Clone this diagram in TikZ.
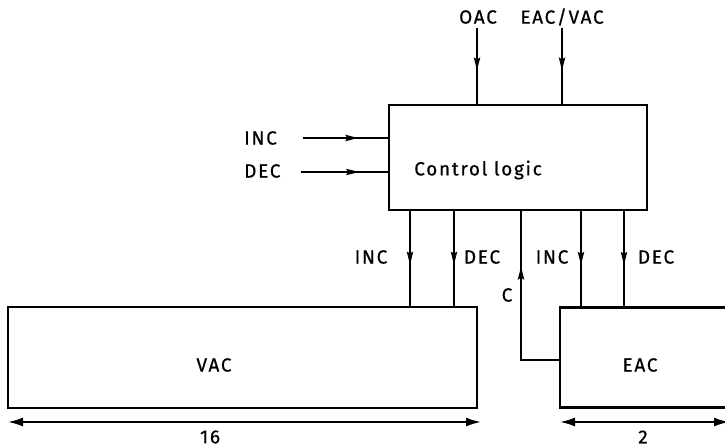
\documentclass[tikz,border=0pt]{standalone}
\usepackage{fontspec}
\setmainfont{Fira Sans}[LetterSpace=9, FakeBold=0.6]
\usetikzlibrary{arrows.meta,decorations.markings}

\begin{document}
\begin{tikzpicture}[
  x=1pt, y=-1pt,
  font=\fontsize{19}{22}\selectfont,
  blk/.style  = {draw, line width=2.6pt, inner sep=0pt},
  sig/.style  = {line width=1.3pt},
  mid/.style  = {sig, postaction={decorate}, decoration={markings,
                 mark=at position #1 with {\fill (6pt,0pt) -- (-7pt,3.3pt)
                   -- (-5pt,0pt) -- (-7pt,-3.3pt) -- cycle;}}},
  mid/.default = 0.5,
  dim/.style  = {line width=1.8pt,
                 {Latex[length=15pt,width=9pt]}-{Latex[length=15pt,width=9pt]}},
  lbl/.style  = {inner sep=1pt},
]
\useasboundingbox (0,0) rectangle (725,447);

% ---------------- blocks ----------------
\node[blk, minimum width=258pt, minimum height=105pt] (ctl) at (518,157.5) {};
\node[lbl] at (478,170) {Control logic};
\node[blk, minimum width=469pt, minimum height=101pt] (vac) at (242.5,357.5) {};
\node[lbl] at (214,365) {VAC};
\node[blk, minimum width=200pt, minimum height=100pt] (eac) at (660,357.5) {};
\node[lbl] at (640,365) {EAC};

% ---------------- inputs ----------------
\node[lbl] (oac) at (478,17) {OAC};
\node[lbl] (eav) at (562,17) {EAC/VAC};
\coordinate (oact) at (477,28);
\coordinate (eavt) at (562,28);
\draw[mid=0.48] (oact) -- (oact |- ctl.north);
\draw[mid=0.48] (eavt) -- (eavt |- ctl.north);

\node[lbl, anchor=west] (inc) at (243,138) {INC};
\node[lbl, anchor=west] (dec) at (243,171) {DEC};
\coordinate (inct) at (303,138);
\coordinate (dect) at (301,172);
\draw[mid=0.58] (inct) -- (inct -| ctl.west);
\draw[mid=0.6] (dect) -- (dect -| ctl.west);

% ---------------- control lines ----------------
\foreach \px/\nm in {410/vi, 454/vd} {
  \coordinate (\nm) at (\px,0);
  \draw[mid] (\nm |- ctl.south) -- (\nm |- vac.north);
}
\foreach \px/\nm in {581/ei, 624/ed} {
  \coordinate (\nm) at (\px,0);
  \draw[mid] (\nm |- ctl.south) -- (\nm |- eac.north);
}
\node[lbl] (vil) at (371,257) {INC};
\node[lbl] (vdl) at (482,257) {DEC};
\node[lbl] (eil) at (552,257) {INC};
\node[lbl] (edl) at (656,257) {DEC};

% carry
\coordinate (cc) at (eac.west |- 0,360);
\coordinate (cx) at (521,360);
\draw[mid=0.67] (cc) -- (cx) -- (cx |- ctl.south);
\node[lbl] (cl) at (507,295) {C};

% ---------------- widths ----------------
\coordinate (d1a) at (8,422);
\coordinate (d1b) at (481,422);
\coordinate (d2a) at (560,422);
\coordinate (d2b) at (729,422);
\draw[dim] (d1a) -- (d1b);
\draw[dim] (d2a) -- (d2b);
\node[lbl] (w16) at (210,437) {16};
\node[lbl] (w2) at (643,437) {2};
\end{tikzpicture}
\end{document}
